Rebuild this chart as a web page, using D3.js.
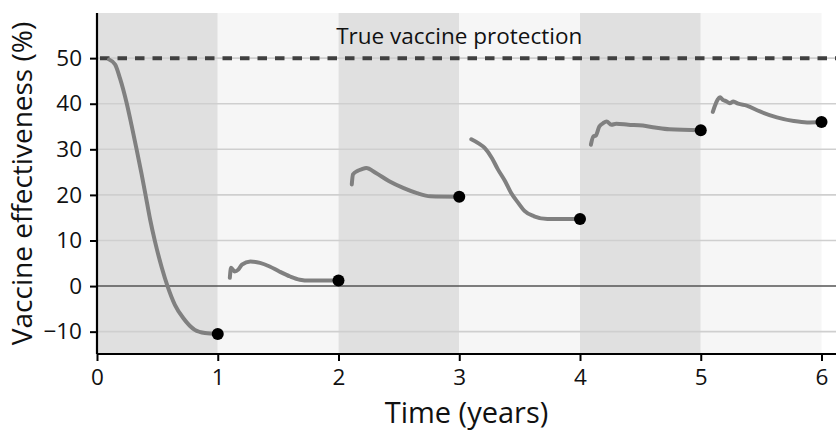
<!DOCTYPE html>
<html>
<head>
<meta charset="utf-8">
<script src="https://cdn.jsdelivr.net/npm/d3@7"></script>
<style>
  body { margin: 0; background: #fff; }
  svg text { font-family: "Open Sans", "Noto Sans", sans-serif; }
</style>
</head>
<body>
<div id="chart"></div>
<script>
// years since vaccination, one curve per year of follow-up
var seg1 = [[0.10, 49.7], [0.15, 48.6], [0.19, 45.6], [0.245, 40.2], [0.286, 35.3], [0.328, 30.0],
  [0.369, 24.6], [0.40, 20.3], [0.44, 14.6], [0.48, 9.8], [0.535, 4.2], [0.584, 0.0],
  [0.645, -4.1], [0.714, -7.0], [0.81, -9.6], [0.894, -10.3], [1.0, -10.5]];
var seg2 = [[1.10, 1.8], [1.11, 4.0], [1.14, 3.2], [1.17, 3.6], [1.20, 4.7], [1.27, 5.4],
  [1.35, 5.1], [1.43, 4.3], [1.51, 3.2], [1.60, 2.1], [1.68, 1.4], [1.76, 1.2], [2.0, 1.2]];
var seg3 = [[2.11, 22.3], [2.12, 24.5], [2.16, 25.3], [2.19, 25.6], [2.23, 25.9], [2.31, 24.8],
  [2.42, 23.0], [2.54, 21.5], [2.65, 20.4], [2.76, 19.7], [3.0, 19.6]];
var seg4 = [[3.10, 32.2], [3.16, 31.3], [3.21, 30.3], [3.27, 28.1], [3.32, 25.6], [3.38, 23.0],
  [3.43, 20.4], [3.49, 18.2], [3.54, 16.5], [3.62, 15.3], [3.73, 14.7], [4.0, 14.7]];
var seg5 = [[4.09, 31.0], [4.11, 32.8], [4.13, 33.0], [4.16, 35.0], [4.19, 35.7], [4.22, 36.1],
  [4.26, 35.4], [4.30, 35.6], [4.40, 35.4], [4.52, 35.2], [4.62, 34.8], [4.74, 34.4], [5.0, 34.2]];
var seg6 = [[5.10, 38.2], [5.115, 39.4], [5.14, 40.9], [5.16, 41.4], [5.18, 40.9], [5.215, 40.5],
  [5.24, 40.1], [5.27, 40.5], [5.31, 40.0], [5.38, 39.6], [5.49, 38.3], [5.63, 37.0],
  [5.77, 36.2], [5.88, 35.9], [6.0, 36.0]];
var segments = [seg1, seg2, seg3, seg4, seg5, seg6];

var dotTimes = [1, 2, 3, 4, 5, 6];
var dotValues = [-10.5, 1.2, 19.6, 14.7, 34.2, 36.0];

var bandStarts = [0, 1, 2, 3, 4, 5];
var trueProtection = 50;
var xTicks = [0, 1, 2, 3, 4, 5, 6];
var yTicks = [-10, 0, 10, 20, 30, 40, 50];

var width = 839, height = 436;
var margin = { top: 13, right: 3, bottom: 82, left: 97 };

var svg = d3.select("#chart")
  .append("svg")
  .attr("width", width)
  .attr("height", height);

var x = d3.scaleLinear().domain([0, 6.12]).range([margin.left, width - margin.right]);
var y = d3.scaleLinear().domain([-14.9, 59.9]).range([height - margin.bottom, margin.top]);

// alternating year bands
svg.append("g")
  .selectAll("rect")
  .data(bandStarts)
  .enter()
  .append("rect")
  .attr("x", function(d) { return x(d); })
  .attr("y", y(59.9))
  .attr("width", function(d) { return x(d + 1) - x(d); })
  .attr("height", y(-14.9) - y(59.9))
  .attr("fill", function(d, i) { return i % 2 == 0 ? "#e0e0e0" : "#f6f6f6"; });

// horizontal grid
svg.append("g")
  .selectAll("line")
  .data(yTicks.filter(function(d) { return d != 0; }))
  .enter()
  .append("line")
  .attr("x1", x(0))
  .attr("x2", width - margin.right)
  .attr("y1", function(d) { return y(d); })
  .attr("y2", function(d) { return y(d); })
  .attr("stroke", "#cfcfcf")
  .attr("stroke-width", 1.6);

// zero line
svg.append("line")
  .attr("x1", x(0))
  .attr("x2", width - margin.right)
  .attr("y1", y(0))
  .attr("y2", y(0))
  .attr("stroke", "#555")
  .attr("stroke-width", 1.6);

// true protection
svg.append("line")
  .attr("x1", x(0))
  .attr("x2", width - margin.right)
  .attr("y1", y(trueProtection))
  .attr("y2", y(trueProtection))
  .attr("stroke", "#404040")
  .attr("stroke-width", 4)
  .attr("stroke-dasharray", "9.5,8")
  .attr("stroke-dashoffset", -3);

svg.append("text")
  .attr("x", x(3))
  .attr("y", y(53.1))
  .attr("text-anchor", "middle")
  .style("font-size", "22.5px")
  .attr("fill", "#111")
  .text("True vaccine protection");

// curves
var line = d3.line()
  .x(function(d) { return x(d[0]); })
  .y(function(d) { return y(d[1]); })
  .curve(d3.curveMonotoneX);

svg.append("g")
  .selectAll("path")
  .data(segments)
  .enter()
  .append("path")
  .attr("d", line)
  .attr("fill", "none")
  .attr("stroke", "#808080")
  .attr("stroke-width", 4)
  .attr("stroke-linejoin", "round")
  .attr("stroke-linecap", "round");

svg.append("g")
  .selectAll("circle")
  .data(dotTimes)
  .enter()
  .append("circle")
  .attr("cx", function(d) { return x(d); })
  .attr("cy", function(d, i) { return y(dotValues[i]); })
  .attr("r", 6)
  .attr("fill", "#000");

// axes
var xAxis = svg.append("g")
  .attr("transform", "translate(0," + y(-14.9) + ")")
  .call(d3.axisBottom(x).tickValues(xTicks).tickSize(7).tickPadding(8).tickFormat(d3.format("d")));
xAxis.select(".domain").attr("stroke-width", 2.2).attr("d", "M" + x(0) + ",0H" + (width - margin.right));
xAxis.selectAll(".tick line").attr("stroke-width", 2);
xAxis.selectAll("text").style("font-size", "22.5px").attr("fill", "#111");

var yAxis = svg.append("g")
  .attr("transform", "translate(" + x(0) + ",0)")
  .call(d3.axisLeft(y).tickValues(yTicks).tickSize(7).tickPadding(8).tickFormat(d3.format("d")));
yAxis.select(".domain").attr("stroke-width", 2.2).attr("d", "M0," + y(59.9) + "V" + y(-14.9));
yAxis.selectAll(".tick line").attr("stroke-width", 2);
yAxis.selectAll("text").style("font-size", "22.5px").attr("fill", "#111");

svg.append("text")
  .attr("x", (x(0) + width - margin.right) / 2)
  .attr("y", 423)
  .attr("text-anchor", "middle")
  .style("font-size", "29px")
  .attr("fill", "#111")
  .text("Time (years)");

svg.append("text")
  .attr("transform", "translate(32," + (y(59.9) + y(-14.9)) / 2 + ") rotate(-90)")
  .attr("text-anchor", "middle")
  .style("font-size", "28px")
  .attr("fill", "#111")
  .text("Vaccine effectiveness (%)");
</script>
</body>
</html>
